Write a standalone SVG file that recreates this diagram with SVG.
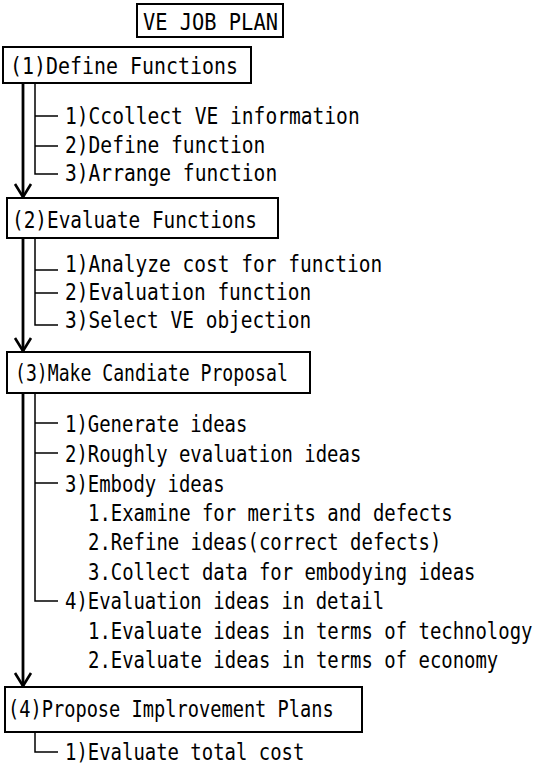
<svg xmlns="http://www.w3.org/2000/svg" width="546" height="769" viewBox="0 0 546 769">
<style>
text{font-family:"DejaVu Sans Mono","Liberation Mono",monospace;font-size:22.5px;fill:#000}
.box{fill:#fff;stroke:#000;stroke-width:2}
.main{stroke:#000;stroke-width:2.8;fill:none}
.sub{stroke:#000;stroke-width:1.5;fill:none}
</style>
<defs>
<marker id="ah" viewBox="-2 -10 18 20" refX="13" refY="0" markerWidth="18" markerHeight="20" markerUnits="userSpaceOnUse" orient="auto">
<path d="M0,-8 L13,0 L0,8" fill="none" stroke="#000" stroke-width="2.6"/>
</marker>
</defs>
<rect width="546" height="769" fill="#fff"/>
<g id="title">
<rect class="box" x="137" y="4" width="146" height="33"/>
<text transform="translate(143,30) scale(0.906,1)">VE JOB PLAN</text>
</g>
<g id="connectors">
<line class="main" x1="23" y1="83" x2="23" y2="197" marker-end="url(#ah)"/>
<line class="main" x1="23" y1="238" x2="23" y2="351" marker-end="url(#ah)"/>
<line class="main" x1="23" y1="393" x2="23" y2="686" marker-end="url(#ah)"/>
<path class="sub" d="M35,83 V174 H58 M35,116 H58 M35,146 H58"/>
<path class="sub" d="M35,238 V325 H58 M35,270 H58 M35,293 H58"/>
<path class="sub" d="M35,393 V601 H58 M35,423 H58 M35,453 H58 M35,483 H58"/>
<path class="sub" d="M35,732 V752 H58"/>
</g>
<g id="n1">
<rect class="box" x="3" y="47" width="248" height="36"/>
<text transform="translate(10,74) scale(0.886,1)">(1)Define Functions</text>
<text transform="translate(65,124) scale(0.871,1)">1)Ccollect VE information</text>
<text transform="translate(65,153) scale(0.871,1)">2)Define function</text>
<text transform="translate(65,181) scale(0.871,1)">3)Arrange function</text>
</g>
<g id="n2">
<rect class="box" x="7" y="198" width="271" height="40"/>
<text transform="translate(12,228) scale(0.861,1)">(2)Evaluate Functions</text>
<text transform="translate(65,272) scale(0.868,1)">1)Analyze cost for function</text>
<text transform="translate(65,300) scale(0.866,1)">2)Evaluation function</text>
<text transform="translate(65,328) scale(0.866,1)">3)Select VE objection</text>
</g>
<g id="n3">
<rect class="box" x="7" y="352" width="303" height="41"/>
<text transform="translate(15,381) scale(0.806,1)">(3)Make Candiate Proposal</text>
<text transform="translate(65,432) scale(0.842,1)">1)Generate ideas</text>
<text transform="translate(65,462) scale(0.842,1)">2)Roughly evaluation ideas</text>
<text transform="translate(65,492) scale(0.842,1)">3)Embody ideas</text>
<text transform="translate(88,521) scale(0.842,1)">1.Examine for merits and defects</text>
<text transform="translate(88,550) scale(0.842,1)">2.Refine ideas(correct defects)</text>
<text transform="translate(88,580) scale(0.842,1)">3.Collect data for embodying ideas</text>
<text transform="translate(65,609) scale(0.842,1)">4)Evaluation ideas in detail</text>
<text transform="translate(88,639) scale(0.842,1)">1.Evaluate ideas in terms of technology</text>
<text transform="translate(88,668) scale(0.842,1)">2.Evaluate ideas in terms of economy</text>
</g>
<g id="n4">
<rect class="box" x="5" y="687" width="357" height="45"/>
<text transform="translate(8,717) scale(0.830,1)">(4)Propose Implrovement Plans</text>
<text transform="translate(65,760) scale(0.842,1)">1)Evaluate total cost</text>
</g>
</svg>
